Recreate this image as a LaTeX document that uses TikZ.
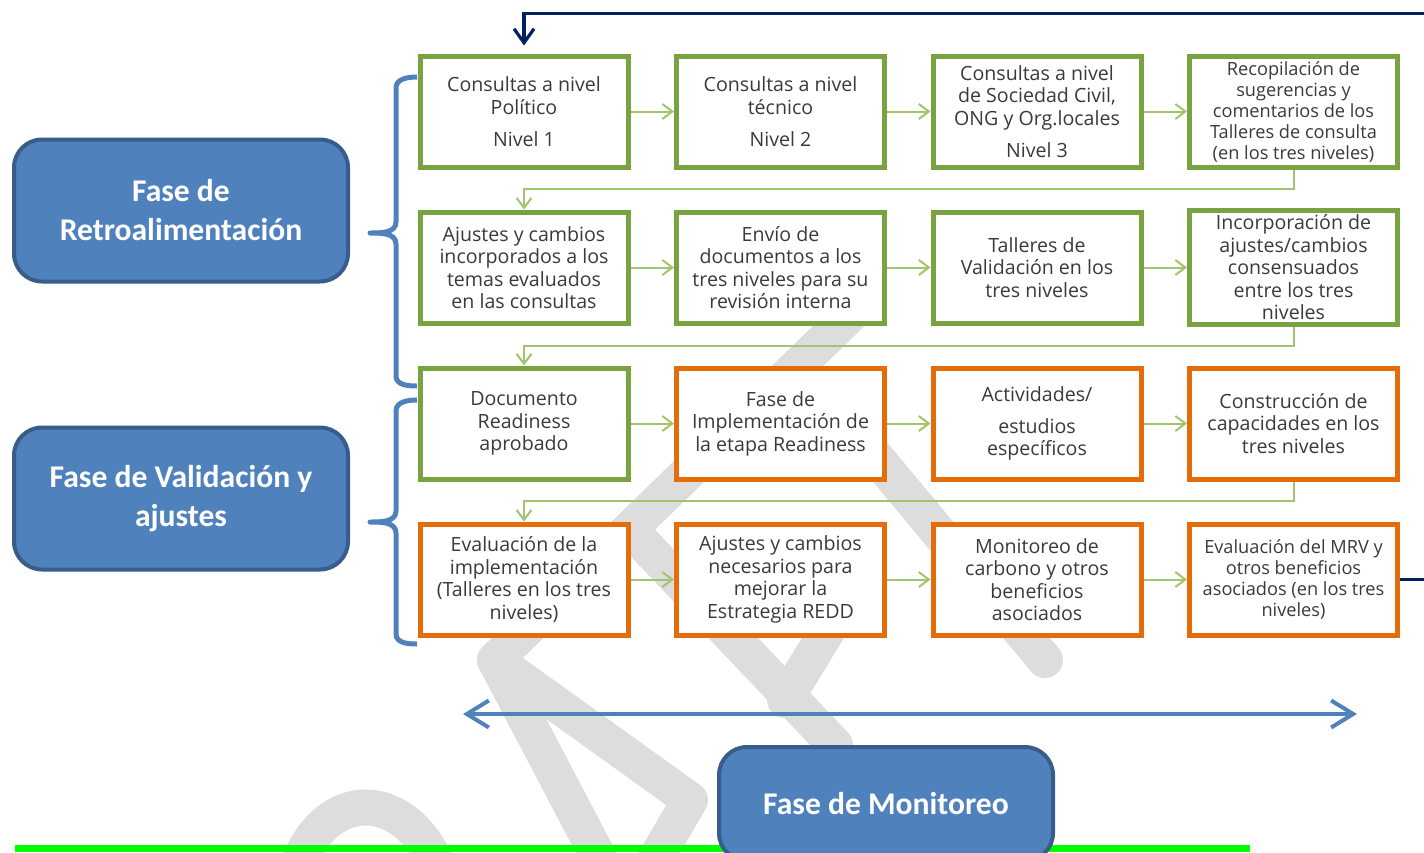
\documentclass[tikz,border=0pt]{standalone}
\usepackage{fontspec}
\setmainfont{Open Sans}
\newfontfamily\phasefont{Carlito}
\usepackage{tikz}
\usetikzlibrary{arrows,arrows.meta,calc,decorations,positioning,shadows}

\definecolor{stepgreen}{RGB}{120,163,64}
\definecolor{steporange}{RGB}{228,108,10}
\definecolor{linkgreen}{RGB}{163,196,110}
\definecolor{phaseblue}{RGB}{79,129,189}
\definecolor{phaseedge}{RGB}{56,93,138}
\definecolor{loopnavy}{RGB}{0,32,96}
\definecolor{txtgrey}{RGB}{58,58,58}
\definecolor{faintgrey}{RGB}{221,221,221}
\definecolor{rulegreen}{RGB}{0,255,0}

\tikzset{%
	stage/.style       = {draw, rectangle, fill=white, line width=2.5pt, minimum width=104pt, minimum height=55.5pt, inner sep=2pt, align=center, text=txtgrey, font=\fontsize{9.8}{11.25}\selectfont, drop shadow={shadow xshift=1pt, shadow yshift=-1.2pt, opacity=0.25}},
	greenstage/.style  = {stage, draw=stepgreen}, % Consultas
	orangestage/.style = {stage, draw=steporange}, % Implementacion
	smalltext/.style   = {font=\fontsize{9.1}{10.5}\selectfont},
	phase/.style       = {draw=phaseedge, fill=phaseblue, line width=2pt, rounded corners=14pt, minimum width=167pt, minimum height=71pt, align=center, text=white, font=\phasefont\bfseries\fontsize{15.8}{19.5}\selectfont},
}
\tikzset{%
	arrow/.style      = {draw=linkgreen, line width=1pt, >={Straight Barb[length=5pt,width=7.5pt]}, ->},
	backarrow/.style  = {draw=loopnavy, line width=1.6pt, >={Straight Barb[length=7pt,width=10pt]}, ->},
	spanarrow/.style  = {draw=phaseblue, line width=2pt, >={Straight Barb[length=11pt,width=13.5pt]}, <->},
	phasebrace/.style = {draw=phaseblue, line width=2.5pt, line join=round},
	faint/.style      = {draw=faintgrey, line width=18pt, line cap=round, line join=round}, % watermark
	rule/.style       = {draw=rulegreen, line width=3.5pt},
}

\begin{document}
\begin{tikzpicture}[x=0.5pt, y=-0.5pt, node distance = 128.25pt]
	\useasboundingbox (0,0) rectangle (1424,852);
	\clip (0,0) rectangle (1424,852);
	% watermark
	\draw[faint] (850,315) -- (495,660) -- (600,860);
	\draw[faint] (495,660) -- (690,800) -- (655,860);
	\draw[faint] (640,540) -- (835,745);
	\draw[faint] (840,610) -- (785,700);
	\draw[faint] (870,450) -- (1045,660);
	\draw[faint] (300,860) .. controls (330,790) and (400,790) .. (435,860);
	% phases
	\node[phase] (fb) at (181,210.5) {Fase de\\Retroalimentación};
	\node[phase] (val) at (181,498.5) {Fase de Validación y\\ajustes};
	\draw[phasebrace] (417,77) to[out=180,in=90] (396,88) -- (396,222) to[out=-90,in=0] (370,233)
		to[out=0,in=90] (396,244) -- (396,376) to[out=-90,in=180] (417,386);
	\draw[phasebrace] (417,400) to[out=180,in=90] (396,411) -- (396,511) to[out=-90,in=0] (370,522)
		to[out=0,in=90] (396,533) -- (396,634) to[out=-90,in=180] (417,644);
	% row 1
	\node[greenstage] (s1) at (524,111.5) {Consultas a nivel\\Político\\[4.75pt]Nivel 1};
	\node[greenstage, right of=s1] (s2) {Consultas a nivel\\técnico\\[4.75pt]Nivel 2};
	\node[greenstage, right of=s2] (s3) {Consultas a nivel\\de Sociedad Civil,\\ONG y Org.locales\\[4.75pt]Nivel 3};
	\node[greenstage, smalltext, right of=s3] (s4) {Recopilación de\\sugerencias y\\comentarios de los\\Talleres de consulta\\(en los tres niveles)};
	% row 2
	\node[greenstage, below of=s1, node distance=78pt] (s5) {Ajustes y cambios\\incorporados a los\\temas evaluados\\en las consultas};
	\node[greenstage, right of=s5] (s6) {Envío de\\documentos a los\\tres niveles para su\\revisión interna};
	\node[greenstage, right of=s6] (s7) {Talleres de\\Validación en los\\tres niveles};
	\node[greenstage, right of=s7] (s8) {Incorporación de\\ajustes/cambios\\consensuados\\entre los tres\\niveles};
	% row 3
	\node[greenstage, below of=s5, node distance=78pt] (s9) {Documento\\Readiness\\aprobado};
	\node[orangestage, right of=s9] (s10) {Fase de\\Implementación de\\la etapa Readiness};
	\node[orangestage, right of=s10] (s11) {Actividades/\\[4.75pt]estudios\\específicos};
	\node[orangestage, right of=s11] (s12) {Construcción de\\capacidades en los\\tres niveles};
	% row 4
	\node[orangestage, below of=s9, node distance=78pt] (s13) {Evaluación de la\\implementación\\(Talleres en los tres\\niveles)};
	\node[orangestage, right of=s13] (s14) {Ajustes y cambios\\necesarios para\\mejorar la\\Estrategia REDD};
	\node[orangestage, right of=s14] (s15) {Monitoreo de\\carbono y otros\\beneficios\\asociados};
	\node[orangestage, smalltext, right of=s15] (s16) {Evaluación del MRV y\\otros beneficios\\asociados (en los tres\\niveles)};
	% links
	\draw[arrow] (s1) -- (s2);
	\draw[arrow] (s2) -- (s3);
	\draw[arrow] (s3) -- (s4);
	\draw[arrow] (s4.south) -- ++(0,-9.5pt) -| (s5.north);
	\draw[arrow] (s5) -- (s6);
	\draw[arrow] (s6) -- (s7);
	\draw[arrow] (s7) -- (s8);
	\draw[arrow] (s8.south) -- ++(0,-9.5pt) -| (s9.north);
	\draw[arrow] (s9) -- (s10);
	\draw[arrow] (s10) -- (s11);
	\draw[arrow] (s11) -- (s12);
	\draw[arrow] (s12.south) -- ++(0,-9.5pt) -| (s13.north);
	\draw[arrow] (s13) -- (s14);
	\draw[arrow] (s14) -- (s15);
	\draw[arrow] (s15) -- (s16);
	\draw[backarrow] (s16.east) -- ++(20pt,0) |- ($(s1.north)+(0,20pt)$) -- ([yshift=4pt]s1.north);
	% monitoring
	\coordinate (spanL) at (463,714);
	\coordinate (spanR) at (1357,714);
	\draw[spanarrow] (spanL) -- (spanR);
	\draw[rule] (15,848) -- (1250,848);
	\node[phase, minimum height=57pt] (mon) at (886,804) {Fase de Monitoreo};
\end{tikzpicture}
\end{document}
